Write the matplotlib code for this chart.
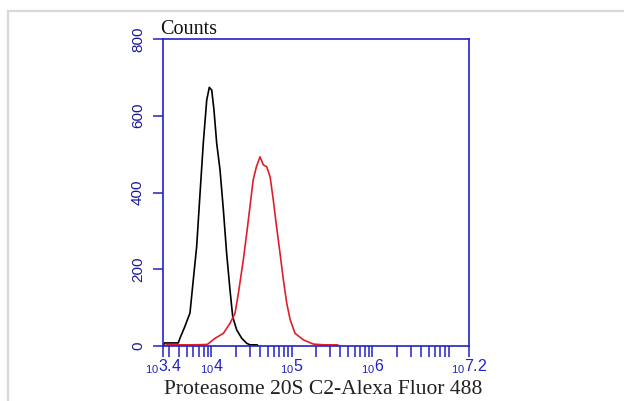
import matplotlib
matplotlib.use("Agg")
import matplotlib.pyplot as plt
from matplotlib.lines import Line2D
import math

# ---- data (log10 fluorescence, counts) ----
black_x = [3.40, 3.42, 3.50, 3.59, 3.61, 3.67, 3.735, 3.776, 3.818, 3.86, 3.90, 3.943,
           3.975, 4.005, 4.033, 4.067, 4.108, 4.15, 4.19, 4.232, 4.266, 4.315, 4.378,
           4.44, 4.48, 4.57, 4.58]
black_y = [0, 8, 8, 8, 20, 50, 86, 172, 259, 398, 528, 641,
           674, 667, 615, 528, 459, 354, 242, 146, 76, 42, 20,
           7, 3, 3, 0]

red_x = [3.40, 3.45, 3.60, 3.80, 3.95, 4.046, 4.15, 4.232, 4.294, 4.336, 4.397, 4.44,
         4.48, 4.52, 4.56, 4.605, 4.646, 4.688, 4.73, 4.77, 4.81, 4.853, 4.895,
         4.937, 4.98, 5.04, 5.143, 5.267, 5.40, 5.57, 5.58]
red_y = [0, 3, 3, 3, 4, 20, 33, 59, 85, 137, 224, 294,
         363, 433, 467, 493, 472, 467, 441, 380, 311, 242, 172,
         111, 68, 33, 16, 5, 3, 3, 0]

y_ticks = [0, 200, 400, 600, 800]
x_major = [3.4, 4, 5, 6, 7.2]
x_major_labels = ["3.4", "4", "5", "6", "7.2"]
x_label = "Proteasome 20S C2-Alexa Fluor 488"
y_title = "Counts"

blue = "#2222c4"

fig = plt.figure(figsize=(6.24, 4.01), dpi=100)
W, H = 624, 401

# light gray frame
fig.add_artist(Line2D([8 / W, 1.0], [1 - 11 / H, 1 - 11 / H], color="#d9d9d9", lw=1.6))
fig.add_artist(Line2D([8 / W, 8 / W], [0, 1 - 11 / H], color="#d9d9d9", lw=1.6))

ax = fig.add_axes([163 / W, 1 - 346 / H, 306 / W, 307 / H])
ax.plot(black_x, black_y, color="black", lw=1.2)
ax.plot(red_x, red_y, color="#e01e2a", lw=1.2)

ax.set_xlim(3.4, 7.2)
ax.set_ylim(0, 800)
for s in ax.spines.values():
    s.set_color(blue)
    s.set_linewidth(1.2)

ax.set_yticks(y_ticks)
ax.set_yticklabels([str(v) for v in y_ticks], rotation=90, va="center",
                   family="Liberation Sans", fontsize=11, color="#1a1a9a")
ax.tick_params(axis="y", direction="out", length=7, width=1.1, color=blue, pad=6)

minor = []
for d in range(3, 7):
    for m in range(2, 10):
        v = d + math.log10(m)
        if 3.4 < v < 7.2:
            minor.append(v)
ax.set_xticks(minor, minor=True)
ax.set_xticks(x_major)
ax.set_xticklabels([r"$\mathregular{_{10}%s}$" % s for s in x_major_labels],
                   fontsize=11.5, color=blue, family="Liberation Sans")
ax.tick_params(axis="x", which="both", direction="out", length=8, width=1.1,
               color=blue, pad=0)

fig.text(160 / W, 1 - 29 / H, y_title, family="Liberation Serif", fontsize=14.5,
         ha="left", va="center", color="#111111")
fig.text(323 / W, 1 - 389 / H, x_label, family="Liberation Serif", fontsize=15.5,
         ha="center", va="center", color="#222222")

fig.savefig("out.png", dpi=100)
